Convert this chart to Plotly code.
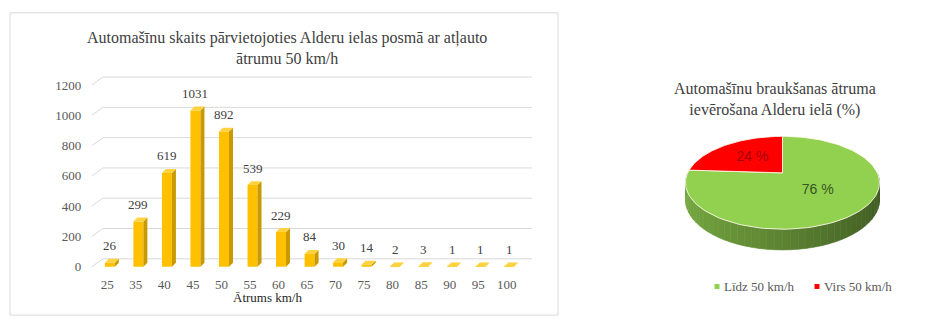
import numpy as np
import plotly.graph_objects as go

# ---------------- data ----------------
speeds = ["25", "35", "40", "45", "50", "55", "60", "65", "70", "75", "80", "85", "90", "95", "100"]
counts = [26, 299, 619, 1031, 892, 539, 229, 84, 30, 14, 2, 3, 1, 1, 1]
y_ticks = [0, 200, 400, 600, 800, 1000, 1200]

pie_labels = ["Līdz 50 km/h", "Virs 50 km/h"]
pie_values = [76, 24]

bar_title = "Automašīnu skaits pārvietojoties Alderu ielas posmā ar atļauto<br>ātrumu 50 km/h"
x_title = "Ātrums km/h"
pie_title = "Automašīnu braukšanas ātruma<br>ievērošana Alderu ielā (%)"

# ---------------- style ----------------
W, H = 950, 328
SERIF = "Liberation Serif, Times New Roman, serif"
SANS = "Liberation Sans, Arial, sans-serif"
GRID = "#D9D9D9"
TXT = "#595959"
BAR_FRONT, BAR_SIDE, BAR_TOP = "#FFC000", "#C99A00", "#FFD23F"
pie_colors = [(146, 208, 80), (255, 0, 0)]
pie_text_colors = ["#375623", "#A50000"]

# 3D bar geometry (data units)
BW, BOFF, DX, DY = 0.35, 0.09, 0.14, 26
GX0, GDX, GDY, GX1 = -0.54, 0.386, 52, 14.89

fig = go.Figure()
xi = np.arange(len(counts))

# front faces
fig.add_trace(go.Bar(x=xi + BOFF, y=counts, width=BW, marker_color=BAR_FRONT,
                     marker_line_width=0, hoverinfo="skip", xaxis="x", yaxis="y"))
# side & top faces
sx, sy, tx, ty = [], [], [], []
for i, v in zip(xi, counts):
    x0 = i + BOFF - BW / 2
    x1 = i + BOFF + BW / 2
    sx += [x1, x1 + DX, x1 + DX, x1, x1, None]
    sy += [0, DY, v + DY, v, 0, None]
    tx += [x0, x0 + DX, x1 + DX, x1, x0, None]
    ty += [v, v + DY, v + DY, v, v, None]
fig.add_trace(go.Scatter(x=sx, y=sy, fill="toself", fillcolor=BAR_SIDE, mode="lines",
                         line=dict(width=0, color=BAR_SIDE), hoverinfo="skip", xaxis="x", yaxis="y"))
fig.add_trace(go.Scatter(x=tx, y=ty, fill="toself", fillcolor=BAR_TOP, mode="lines",
                         line=dict(width=0, color=BAR_TOP), hoverinfo="skip", xaxis="x", yaxis="y"))

annotations = []
shapes = []
for i, v in zip(xi, counts):
    annotations.append(dict(x=i + BOFF, y=v, xref="x", yref="y", text=str(v), showarrow=False,
                            xanchor="center", yanchor="middle",
                            yshift=17, font=dict(family=SERIF, size=13, color="#404040")))

# 3D gridlines
for t in y_ticks:
    shapes.append(dict(type="line", xref="x", yref="y", x0=GX0, y0=t, x1=GX0 + GDX, y1=t + GDY,
                       line=dict(color=GRID, width=1), layer="below"))
    shapes.append(dict(type="line", xref="x", yref="y", x0=GX0 + GDX, y0=t + GDY, x1=GX1, y1=t + GDY,
                       line=dict(color=GRID, width=1), layer="below"))

# chart border (left chart)
shapes.append(dict(type="rect", xref="paper", yref="paper", x0=10 / W, x1=558 / W,
                   y0=1 - 319 / H, y1=1 - 13 / H, line=dict(color=GRID, width=1), layer="below"))

annotations.append(dict(x=287 / W, y=1 - 49 / H, xref="paper", yref="paper", text=bar_title,
                        xanchor="center", yanchor="middle",
                        showarrow=False, font=dict(family=SERIF, size=16, color="#404040")))
annotations.append(dict(x=267 / W, y=1 - 301 / H, xref="paper", yref="paper", text=x_title,
                        xanchor="center", yanchor="middle",
                        showarrow=False, font=dict(family=SERIF, size=13, color="#262626")))

# ---------------- 3D pie ----------------
CX, CY = 782.5, 175.0
A, B, P, T = 94.8, 44.9, 0.2128, 16.5


def proj(t, h=0.0, r=1.0):
    X = r * np.cos(t)
    Z = r * np.sin(t)
    w = 1 + P * Z
    return CX + A * X / w, CY - B * Z / w + h * T / w


total = float(sum(pie_values))
starts, ends = [], []
cur = np.pi / 2
for v in pie_values:
    starts.append(cur)
    cur = cur - 2 * np.pi * v / total
    ends.append(cur)

# side walls (front half only), shaded gradient
for (s, e), col in zip(zip(starts, ends), pie_colors):
    ranges = []
    lo, hi = max(e, -np.pi), min(s, 0.0)
    if hi > lo:
        ranges.append((lo, hi))
    lo2, hi2 = max(e + 2 * np.pi, -np.pi), min(s + 2 * np.pi, 0.0)
    if hi2 > lo2:
        ranges.append((lo2, hi2))
    for lo, hi in ranges:
        n = max(2, int((hi - lo) / np.pi * 48))
        edges = np.linspace(lo, hi, n + 1)
        for a0, a1 in zip(edges[:-1], edges[1:]):
            tt = np.linspace(a0, a1, 4)
            xt, yt = proj(tt, 0)
            xb, yb = proj(tt[::-1], 1)
            xm = np.cos((a0 + a1) / 2)
            f = 0.82 - 0.19 * (xm + 1)
            c = "rgb(%d,%d,%d)" % tuple(int(k * f) for k in col)
            fig.add_trace(go.Scatter(x=list(xt) + list(xb) + [xt[0]], y=list(yt) + list(yb) + [yt[0]],
                                     fill="toself", fillcolor=c, mode="lines",
                                     line=dict(width=0.6, color=c), hoverinfo="skip",
                                     xaxis="x2", yaxis="y2"))

# top faces
for (s, e), col in zip(zip(starts, ends), pie_colors):
    tt = np.linspace(s, e, 120)
    xa, ya = proj(tt, 0)
    px = [CX] + list(xa) + [CX]
    py = [CY] + list(ya) + [CY]
    fig.add_trace(go.Scatter(x=px, y=py, fill="toself", fillcolor="rgb(%d,%d,%d)" % col, mode="lines",
                             line=dict(width=1, color="rgba(255,250,235,0.85)"), hoverinfo="skip",
                             xaxis="x2", yaxis="y2"))

# percent labels
lx, ly = [], []
for s, e in zip(starts, ends):
    x, y = proj((s + e) / 2, 0, 0.5)
    lx.append(x)
    ly.append(y)
fig.add_trace(go.Scatter(x=lx, y=ly, mode="text", text=["%d %%" % v for v in pie_values],
                         textfont=dict(family=SANS, size=14, color=pie_text_colors),
                         hoverinfo="skip", xaxis="x2", yaxis="y2"))

# legend
leg_x = [717, 817]
leg_y = [290, 290]
fig.add_trace(go.Scatter(x=leg_x, y=leg_y, mode="markers",
                         marker=dict(symbol="square", size=5,
                                     color=["rgb(%d,%d,%d)" % c for c in pie_colors]),
                         hoverinfo="skip", xaxis="x2", yaxis="y2"))
for lxp, lyp, lab in zip(leg_x, leg_y, pie_labels):
    annotations.append(dict(x=lxp + 5, y=lyp, xref="x2", yref="y2", text=lab, showarrow=False,
                            xanchor="left", yanchor="middle",
                            font=dict(family=SERIF, size=13, color=TXT)))

annotations.append(dict(x=775 / W, y=1 - 101 / H, xref="paper", yref="paper", text=pie_title,
                        xanchor="center", yanchor="middle",
                        showarrow=False, font=dict(family=SERIF, size=16, color="#404040")))

# ---------------- axes / layout ----------------
PXC = 28.53
X_LEFT, X_RIGHT = 107.3 - 0.7 * PXC, 107.3 + 15.2 * PXC
PXV = 184 / 1200
Y_BOT = 270 + 20 * PXV
Y_TOP = 270 - 1300 * PXV

fig.update_layout(
    width=W, height=H, margin=dict(l=0, r=0, t=0, b=0),
    paper_bgcolor="white", plot_bgcolor="rgba(0,0,0,0)",
    showlegend=False,
    xaxis=dict(domain=[X_LEFT / W, X_RIGHT / W], range=[-0.7, 15.2], tickvals=list(xi),
               ticktext=speeds, showgrid=False, zeroline=False, showline=False, ticks="",
               tickfont=dict(family=SERIF, size=13, color=TXT), ticklabelstandoff=5, fixedrange=True),
    yaxis=dict(domain=[1 - Y_BOT / H, 1 - Y_TOP / H], range=[-20, 1300], tickvals=y_ticks,
               showgrid=False, zeroline=False, showline=False, ticks="",
               tickfont=dict(family=SERIF, size=13, color=TXT), ticklabelstandoff=5, fixedrange=True),
    xaxis2=dict(domain=[640 / W, 1], range=[640, 950], visible=False, fixedrange=True),
    yaxis2=dict(domain=[0, 1], range=[328, 0], visible=False, fixedrange=True),
    annotations=annotations, shapes=shapes,
)

fig.write_html("out.html")
